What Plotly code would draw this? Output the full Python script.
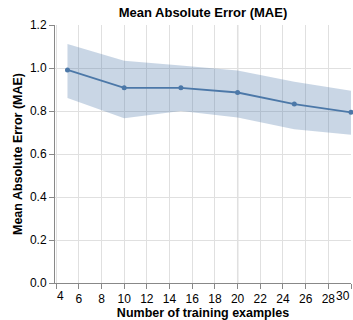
import plotly.graph_objects as go

train_sizes = [5, 10, 15, 20, 25, 30]
mae_mean = [0.991, 0.908, 0.908, 0.886, 0.832, 0.794]
mae_upper = [1.112, 1.034, 1.012, 0.988, 0.936, 0.894]
mae_lower = [0.860, 0.766, 0.800, 0.770, 0.715, 0.690]
x_ticks = list(range(4, 31, 2))
y_ticks = [0.0, 0.2, 0.4, 0.6, 0.8, 1.0, 1.2]
rule_x = 20

fig = go.Figure()
fig.add_trace(go.Scatter(x=train_sizes + train_sizes[::-1],
                         y=mae_upper + mae_lower[::-1],
                         fill="toself", fillcolor="rgba(76,120,168,0.3)",
                         line=dict(width=0), mode="lines", hoverinfo="skip",
                         showlegend=False))
fig.add_trace(go.Scatter(x=train_sizes, y=mae_mean, mode="lines+markers",
                         line=dict(color="#4c78a8", width=1.8),
                         marker=dict(color="#4c78a8", size=5),
                         showlegend=False, cliponaxis=False))
fig.add_vline(x=rule_x, line=dict(color="#aaaaaa", width=1.2), layer="below")

# flush edge tick labels (first left-aligned, last right-aligned)
inner_text = [("" if v in (x_ticks[0], x_ticks[-1]) else str(v)) for v in x_ticks]
fig.add_annotation(x=x_ticks[0], y=0, xref="x", yref="paper", text=str(x_ticks[0]),
                   showarrow=False, xanchor="left", yanchor="top", yshift=-5,
                   font=dict(size=12), borderpad=0)
fig.add_annotation(x=x_ticks[-1], y=0, xref="x", yref="paper", text=str(x_ticks[-1]),
                   showarrow=False, xanchor="right", yanchor="top", yshift=-5,
                   font=dict(size=12), borderpad=0)

font_family = "Liberation Sans, Arial, sans-serif"
fig.update_layout(
    width=353, height=320,
    margin=dict(l=55, r=2, t=25, b=37),
    paper_bgcolor="white", plot_bgcolor="white",
    font=dict(family=font_family, color="black", size=12),
    title=dict(text="<b>Mean Absolute Error (MAE)</b>", x=0.575, xanchor="center",
               y=0.962, yanchor="middle", font=dict(size=13)),
)
fig.update_xaxes(range=[3.9, 30], tickvals=x_ticks, ticktext=inner_text,
                 showgrid=True, gridcolor="#e0e0e0", gridwidth=1,
                 showline=True, linecolor="#888888", linewidth=1,
                 ticks="outside", ticklen=5, tickcolor="#888888",
                 title=dict(text="<b>Number of training examples</b>", font=dict(size=12.5), standoff=4),
                 zeroline=False, tickfont=dict(size=12))
fig.update_yaxes(range=[0, 1.2], tickvals=y_ticks, ticktext=[f"{v:.1f}" for v in y_ticks],
                 showgrid=True, gridcolor="#e0e0e0", gridwidth=1,
                 showline=True, linecolor="#888888", linewidth=1,
                 ticks="outside", ticklen=5, tickcolor="#888888",
                 title=dict(text="<b>Mean Absolute Error (MAE)</b>", font=dict(size=12.5), standoff=4),
                 zeroline=False, tickfont=dict(size=12))
fig.write_html("out.html", config={"displayModeBar": False},
               post_script="document.body.style.margin='0';document.body.style.padding='0';")
